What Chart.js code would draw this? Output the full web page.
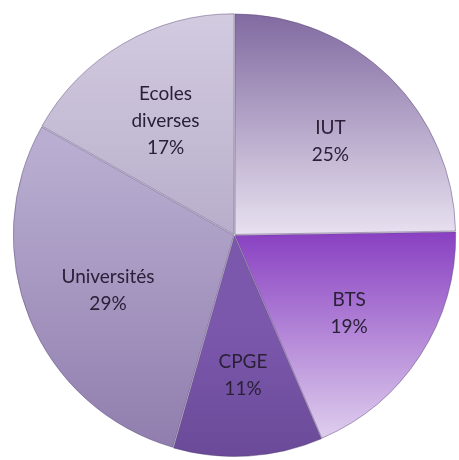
<!DOCTYPE html>
<html>
<head>
<meta charset="utf-8">
<script src="https://cdn.jsdelivr.net/npm/chart.js@4"></script>
<style>
html,body{margin:0;padding:0;background:#fff;}
#wrap{width:459px;height:460px;}
</style>
</head>
<body>
<div id="wrap"><canvas id="c" width="459" height="460"></canvas></div>
<script>
const categories = ["IUT", "BTS", "CPGE", "Universités", "Ecoles diverses"];
const labelLines = [["IUT"], ["BTS"], ["CPGE"], ["Universités"], ["Ecoles", "diverses"]];
const values = [25, 19, 11, 29, 17];

// gradient stops per slice: [yStartFrac, yEndFrac, colorStart, colorEnd]
const gradStops = [
  [0.0, 0.5, "#8069a0", "#e8e1f0"],
  [0.5, 1.0, "#8a42c2", "#e7dcf2"],
  [0.7, 1.0, "#7c58ad", "#6a4a98"],
  [0.3, 1.0, "#b9aed1", "#8f7cad"],
  [0.0, 0.5, "#d3cbe0", "#b8aecb"]
];

function sliceColor(ctx) {
  const chart = ctx.chart;
  const a = chart.chartArea;
  if (!a) return gradStops[ctx.dataIndex][2];
  const s = gradStops[ctx.dataIndex];
  const h = a.bottom - a.top;
  const g = chart.ctx.createLinearGradient(0, a.top + s[0] * h, 0, a.top + s[1] * h);
  g.addColorStop(0, s[2]);
  g.addColorStop(1, s[3]);
  return g;
}

const labelPlugin = {
  id: "sliceLabels",
  afterDatasetsDraw(chart) {
    const meta = chart.getDatasetMeta(0);
    const ctx = chart.ctx;
    ctx.save();
    ctx.font = "19px Lato, 'Open Sans', sans-serif";
    ctx.fillStyle = "#2a2038";
    ctx.textAlign = "center";
    ctx.textBaseline = "middle";
    meta.data.forEach((arc, i) => {
      const p = arc.getProps(["x", "y", "startAngle", "endAngle", "outerRadius"], true);
      const mid = (p.startAngle + p.endAngle) / 2;
      const r = p.outerRadius * 0.62;
      const cx = p.x + Math.cos(mid) * r;
      const cy = p.y + Math.sin(mid) * r + 4;
      const lines = labelLines[i].concat([values[i] + "%"]);
      const lh = 27;
      const y0 = cy - (lines.length - 1) * lh / 2;
      lines.forEach((t, k) => ctx.fillText(t, cx, y0 + k * lh));
    });
    ctx.restore();
  }
};

new Chart(document.getElementById("c"), {
  type: "pie",
  data: {
    labels: categories,
    datasets: [{
      data: values,
      backgroundColor: sliceColor,
      borderColor: "rgba(80,60,110,0.45)",
      borderWidth: 1,
      offset: 3
    }]
  },
  options: {
    responsive: false,
    animation: false,
    layout: { padding: { left: 12, right: 2, top: 12, bottom: 2 } },
    plugins: { legend: { display: false }, tooltip: { enabled: false } }
  },
  plugins: [labelPlugin]
});
</script>
</body>
</html>
